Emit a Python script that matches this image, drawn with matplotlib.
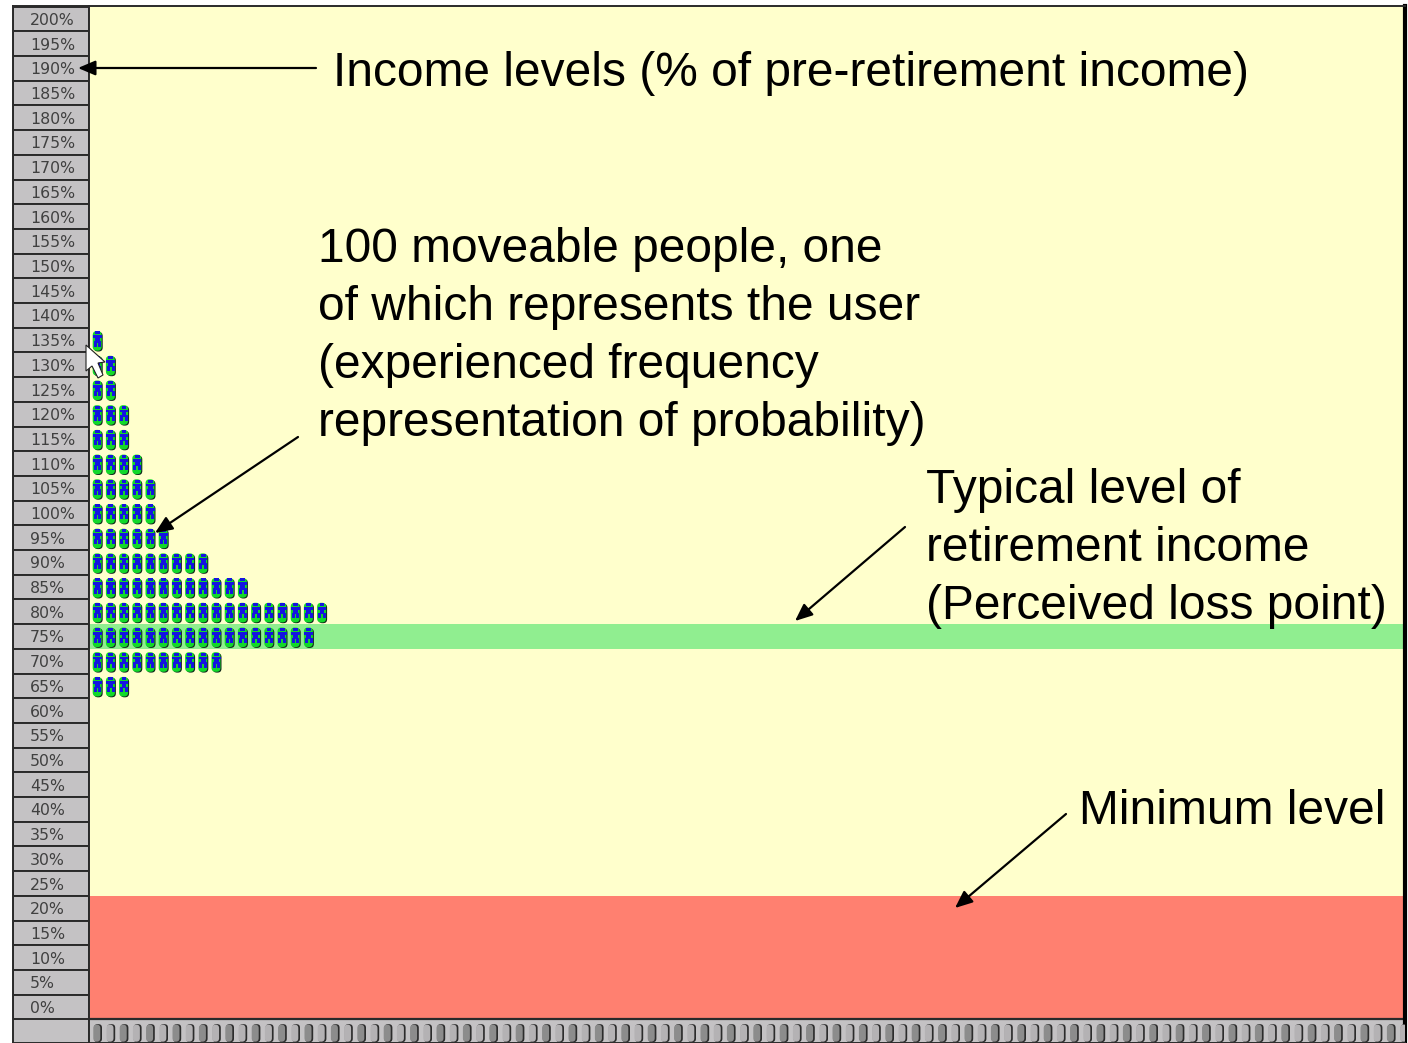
"""Retirement income simulator screenshot: 100 people stacked by income level."""

import numpy as np
import matplotlib
matplotlib.use("Agg")
import matplotlib.pyplot as plt
from matplotlib.collections import PathCollection
from matplotlib.patches import BoxStyle, Polygon
from matplotlib.path import Path
from matplotlib.transforms import IdentityTransform

plt.rcParams["font.family"] = ["Liberation Sans", "DejaVu Sans"]

W, H = 1408, 1043

income_levels = list(range(200, -5, -5))
people_levels = [135, 130, 125, 120, 115, 110, 105, 100, 95, 90, 85, 80, 75, 70, 65]
people_counts = [1, 2, 2, 3, 3, 4, 5, 5, 6, 9, 12, 18, 17, 10, 3]
typical_level = 75
minimum_level = 20
n_slots = 100

GRAY = "#c4c2c4"
EDGE = "#2a2a2a"
CREAM = "#ffffcc"
GREEN_BAND = "#90ee90"
RED_BAND = "#ff8070"

# y scale: 5% is 24.7 px, 0% sits at pixel row 1007
Y_TOP = (1007 - 6) / 4.94
Y_BOTTOM = (1007 - H) / 4.94


def axes_px(left, right, top, bottom):
    return [left / W, 1 - bottom / H, (right - left) / W, (bottom - top) / H]


def capsule(x0, y0, w, h, r):
    return BoxStyle("Round", pad=0, rounding_size=r)(x0, y0, w, h, 1)


def add_stamp(ax, path, xs, ys, color):
    # path is in display pixels around each (x, y) data point
    coll = PathCollection([path], offsets=np.column_stack([xs, ys]),
                          offset_transform=ax.transData,
                          transform=IdentityTransform(),
                          facecolors=color, edgecolors="none", zorder=4)
    ax.add_collection(coll)


fig = plt.figure(figsize=(W / 100, H / 100), dpi=100, facecolor="white")

# left column with the income levels
ax_left = fig.add_axes(axes_px(13, 89, 6, H))
ax_left.set_xlim(0, 1)
ax_left.set_ylim(Y_BOTTOM, Y_TOP)
ax_left.set_facecolor(GRAY)
ax_left.barh(income_levels, 1, height=5, color=GRAY, edgecolor=EDGE, linewidth=1.4)
for lv in income_levels:
    ax_left.text(0.225, lv, f"{lv}%", ha="left", va="center_baseline", fontsize=11.3,
                 color="#404040", family=["DejaVu Sans"])
ax_left.set_xticks([])
ax_left.set_yticks([])
for s in ax_left.spines.values():
    s.set_color(EDGE)
    s.set_linewidth(1.4)

# main area, x is in person slots (13.2 px each)
ax = fig.add_axes(axes_px(89, 1405, 6, H))
ax.set_xlim((89 - 97.5) / 13.2, (1405 - 97.5) / 13.2)
ax.set_ylim(Y_BOTTOM, Y_TOP)
ax.set_facecolor(CREAM)
ax.axhspan(typical_level - 2.5, typical_level + 2.5, color=GREEN_BAND, lw=0, zorder=1)
ax.axhspan(-2.5, minimum_level + 2.5, color=RED_BAND, lw=0, zorder=1)
ax.axhspan(Y_BOTTOM, -2.5, color=GRAY, lw=0, zorder=1)
ax.axhline(-2.5, color=EDGE, lw=1.6, zorder=2)
ax.set_xticks([])
ax.set_yticks([])
for s in ax.spines.values():
    s.set_color(EDGE)
    s.set_linewidth(1.4)
ax.spines["right"].set_color("black")
ax.spines["right"].set_linewidth(3)

# people
px, py = [], []
for lv, n in zip(people_levels, people_counts):
    for i in range(n):
        px.append(i)
        py.append(lv)

body_blue = Path.make_compound_path(
    Path([(-2.4, 8.6), (2.4, 8.6), (2.4, 5.6), (-2.4, 5.6), (-2.4, 8.6)]),
    Path([(-4.3, 4.6), (4.3, 4.6), (4.3, 2), (2.4, 2), (2.4, -1), (3.8, -1), (3.8, -6.5),
          (0.8, -6.5), (0.8, -2.5), (-0.8, -2.5), (-0.8, -6.5), (-3.8, -6.5), (-3.8, -1),
          (-2.4, -1), (-2.4, 2), (-4.3, 2), (-4.3, 4.6)]),
)
add_stamp(ax, capsule(-3.6, -11.4, 8.8, 19.5, 4), px, py, "#10261a")
add_stamp(ax, capsule(-4.8, -10.6, 9, 19.6, 4), px, py, "#12d82a")
add_stamp(ax, body_blue, px, py, "#1414e0")

# scroll strip under the chart, one knob per person
slots = np.arange(n_slots)
strip_y = np.full(n_slots, -5.3)
add_stamp(ax, capsule(-3.5, -9, 8, 18, 3.5), slots, strip_y, "#2c2c2c")
add_stamp(ax, capsule(-4.2, -8.5, 7, 17, 3.5), slots[::2], strip_y[::2], "#8c8c8c")
add_stamp(ax, capsule(-4.2, -8.5, 7, 17, 3.5), slots[1::2], strip_y[1::2], "#b4b2b4")

# annotation layer in pixel coordinates
over = fig.add_axes([0, 0, 1, 1], facecolor="none")
over.set_xlim(0, W)
over.set_ylim(H, 0)
over.axis("off")

FS = 34.5
arrow = dict(arrowstyle="-|>,head_length=0.75,head_width=0.32", color="black", lw=1.6,
             shrinkA=0, shrinkB=0, mutation_scale=14)
over.annotate("", xy=(78, 68), xytext=(316, 68), arrowprops=arrow)
over.annotate("", xy=(155, 533), xytext=(298, 437), arrowprops=arrow)
over.annotate("", xy=(795, 621), xytext=(905, 527), arrowprops=arrow)
over.annotate("", xy=(955, 908), xytext=(1066, 814), arrowprops=arrow)

over.text(333, 74, "Income levels (% of pre-retirement income)", fontsize=FS, va="center")
over.text(318, 336.5, "100 moveable people, one\nof which represents the user\n"
          "(experienced frequency\nrepresentation of probability)",
          fontsize=FS, va="center", linespacing=1.372)
over.text(926, 548.5, "Typical level of\nretirement income\n(Perceived loss point)",
          fontsize=FS, va="center", linespacing=1.372)
over.text(1079, 811, "Minimum level", fontsize=FS, va="center")

# mouse pointer left in the screenshot
over.add_patch(Polygon([(86, 345), (86, 371), (92, 366), (98, 378), (103, 375), (98, 363), (105, 362)],
                       closed=True, facecolor="white", edgecolor="#222222", lw=0.8, zorder=6))

fig.savefig("out.png", dpi=100, facecolor="white")
